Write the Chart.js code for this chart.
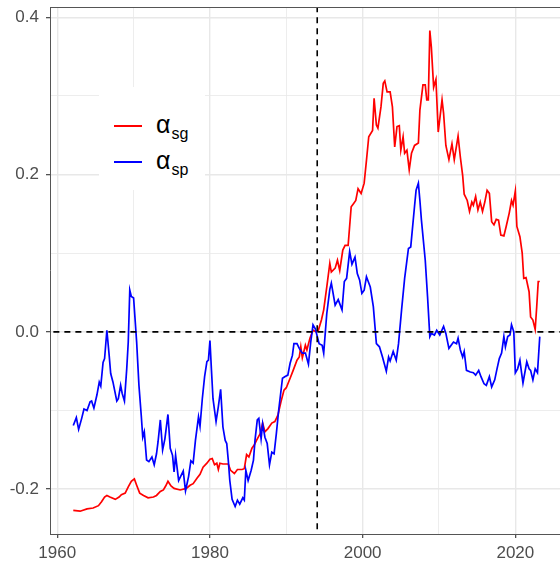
<!DOCTYPE html>
<html>
<head>
<meta charset="utf-8">
<script src="https://cdn.jsdelivr.net/npm/chart.js@4.4.1/dist/chart.umd.min.js"></script>
<style>
  body { margin: 0; background: #fff; overflow: hidden; }
  #wrap { position: relative; width: 560px; height: 563px; }
  #legend {
    position: absolute; left: 99px; top: 87px; width: 106px; height: 103px;
    background: #fff; font-family: "Liberation Sans", Arial, sans-serif;
  }
  .item { position: absolute; left: 0; height: 30px; }
  .key { position: absolute; left: 15px; width: 28px; height: 2px; }
  .lab { position: absolute; left: 57px; font-size: 25px; line-height: 25px; color: #000; white-space: nowrap; }
  .lab sub { font-size: 16px; vertical-align: -6px; margin-left: 1px; }
</style>
</head>
<body>
<div id="wrap">
  <canvas id="chart" width="560" height="563"></canvas>
  <div id="legend">
    <div class="item" style="top:24px">
      <div class="key" style="top:14px;background:#ff0000"></div>
      <div class="lab" style="top:1px">α<sub>sg</sub></div>
    </div>
    <div class="item" style="top:60px">
      <div class="key" style="top:14px;background:#0000ff"></div>
      <div class="lab" style="top:1px">α<sub>sp</sub></div>
    </div>
  </div>
</div>
<script>
// alpha_sg (red)
const sgYears = [1962.1,1963.0,1963.9,1964.7,1965.4,1965.8,1966.2,1966.5,1966.9,1967.6,1968.1,1968.4,1968.9,1969.3,1969.7,1970.1,1970.4,1970.8,1971.3,1971.9,1972.6,1973.0,1973.5,1973.9,1974.2,1974.5,1974.9,1975.3,1976.1,1976.9,1977.4,1977.8,1978.3,1978.7,1979.1,1979.6,1980.0,1980.3,1980.6,1980.9,1981.1,1981.3,1981.7,1982.4,1982.7,1983.2,1983.6,1984.2,1984.5,1984.8,1985.1,1985.5,1985.8,1986.1,1986.6,1986.9,1987.2,1987.6,1988.1,1988.5,1988.9,1989.3,1989.7,1990.0,1990.5,1990.9,1991.4,1991.7,1991.9,1992.1,1992.5,1992.7,1993.1,1993.5,1993.9,1994.2,1994.6,1994.9,1995.3,1995.7,1995.9,1996.4,1996.7,1997.0,1997.4,1997.7,1998.1,1998.5,1998.8,1999.1,1999.4,1999.8,2000.2,2000.5,2000.8,2001.3,2001.5,2001.8,2002.0,2002.4,2002.7,2002.9,2003.2,2003.6,2003.9,2004.2,2004.5,2004.8,2005.0,2005.3,2005.5,2005.8,2006.1,2006.4,2006.8,2007.3,2007.5,2007.9,2008.2,2008.4,2008.6,2008.8,2009.0,2009.3,2009.6,2009.9,2010.4,2010.6,2010.9,2011.3,2011.7,2012.0,2012.5,2012.8,2013.1,2013.3,2013.7,2014.0,2014.3,2014.5,2014.8,2015.1,2015.4,2015.7,2016.0,2016.3,2016.6,2016.9,2017.2,2017.5,2017.8,2018.1,2018.5,2018.8,2019.2,2019.5,2019.7,2020.0,2020.2,2020.6,2020.9,2021.1,2021.4,2021.8,2022.0,2022.3,2022.6,2022.8,2023.0,2023.2];
const sgValues = [-0.227,-0.228,-0.225,-0.224,-0.221,-0.216,-0.210,-0.208,-0.210,-0.213,-0.210,-0.207,-0.205,-0.197,-0.190,-0.187,-0.195,-0.205,-0.208,-0.211,-0.210,-0.208,-0.203,-0.201,-0.196,-0.190,-0.196,-0.199,-0.201,-0.199,-0.195,-0.193,-0.186,-0.181,-0.172,-0.167,-0.162,-0.161,-0.169,-0.167,-0.175,-0.167,-0.168,-0.168,-0.176,-0.180,-0.175,-0.175,-0.174,-0.156,-0.159,-0.148,-0.144,-0.138,-0.129,-0.116,-0.127,-0.123,-0.116,-0.114,-0.106,-0.089,-0.074,-0.071,-0.059,-0.049,-0.036,-0.032,-0.019,-0.033,-0.017,-0.023,-0.008,0.002,0.000,0.002,0.015,0.028,0.057,0.087,0.076,0.081,0.091,0.078,0.104,0.110,0.110,0.159,0.163,0.167,0.182,0.176,0.189,0.218,0.248,0.256,0.297,0.263,0.259,0.286,0.316,0.319,0.305,0.305,0.286,0.235,0.261,0.262,0.231,0.248,0.227,0.231,0.206,0.227,0.237,0.240,0.282,0.314,0.314,0.295,0.295,0.383,0.362,0.311,0.321,0.254,0.295,0.278,0.237,0.219,0.239,0.219,0.249,0.222,0.199,0.175,0.167,0.153,0.165,0.161,0.172,0.155,0.165,0.153,0.165,0.180,0.176,0.140,0.136,0.143,0.142,0.123,0.122,0.134,0.151,0.167,0.161,0.179,0.134,0.121,0.100,0.068,0.069,0.051,0.019,0.015,0.003,0.032,0.064,0.064];

// alpha_sp (blue)
const spYears = [1962.1,1962.5,1962.8,1963.2,1963.5,1963.9,1964.3,1964.5,1964.8,1965.2,1965.5,1965.7,1966.0,1966.2,1966.5,1966.8,1967.0,1967.3,1967.8,1968.0,1968.3,1968.5,1968.8,1969.1,1969.3,1969.5,1969.7,1970.0,1970.4,1970.7,1971.0,1971.2,1971.4,1971.7,1972.0,1972.4,1972.7,1973.0,1973.2,1973.5,1973.8,1974.1,1974.5,1974.8,1975.1,1975.3,1975.5,1975.9,1976.5,1976.8,1977.2,1977.5,1977.8,1978.1,1978.5,1978.7,1979.0,1979.3,1979.6,1979.8,1980.0,1980.2,1980.4,1980.8,1981.1,1981.4,1981.7,1982.0,1982.2,1982.4,1982.6,1982.9,1983.3,1983.6,1983.9,1984.3,1984.5,1984.7,1985.0,1985.4,1985.7,1985.9,1986.2,1986.4,1986.7,1986.9,1987.2,1987.5,1987.8,1988.1,1988.4,1988.7,1989.0,1989.5,1989.8,1990.2,1990.5,1990.8,1991.0,1991.4,1991.7,1992.1,1992.5,1992.9,1993.2,1993.5,1993.8,1994.3,1994.7,1994.9,1995.3,1995.7,1995.9,1996.4,1996.8,1997.3,1997.6,1997.9,1998.3,1998.6,1999.0,1999.3,1999.6,1999.9,2000.2,2000.5,2001.0,2001.4,2001.8,2002.2,2002.6,2003.1,2003.4,2003.6,2004.0,2004.4,2004.7,2005.1,2005.5,2006.0,2006.3,2006.8,2007.0,2007.3,2007.5,2007.7,2008.2,2008.5,2008.8,2009.0,2009.4,2009.7,2010.1,2010.6,2010.9,2011.3,2011.9,2012.3,2012.5,2012.8,2013.1,2013.3,2013.6,2014.1,2014.5,2014.8,2015.2,2015.5,2015.9,2016.2,2016.6,2016.9,2017.3,2017.6,2017.9,2018.2,2018.5,2018.7,2019.0,2019.3,2019.5,2019.8,2020.0,2020.3,2020.6,2020.8,2021.0,2021.5,2021.8,2022.0,2022.3,2022.6,2022.9,2023.2];
const spValues = [-0.119,-0.109,-0.124,-0.110,-0.098,-0.100,-0.089,-0.088,-0.097,-0.080,-0.064,-0.069,-0.039,-0.034,0.002,-0.030,-0.053,-0.064,-0.088,-0.085,-0.068,-0.078,-0.088,-0.047,-0.013,0.053,0.045,0.043,-0.013,-0.068,-0.106,-0.134,-0.127,-0.163,-0.165,-0.159,-0.169,-0.155,-0.140,-0.112,-0.150,-0.136,-0.105,-0.148,-0.157,-0.178,-0.157,-0.189,-0.177,-0.202,-0.184,-0.164,-0.167,-0.138,-0.108,-0.120,-0.085,-0.057,-0.038,-0.036,-0.011,-0.049,-0.085,-0.114,-0.095,-0.073,-0.121,-0.138,-0.142,-0.163,-0.189,-0.213,-0.222,-0.214,-0.219,-0.211,-0.214,-0.176,-0.189,-0.176,-0.163,-0.138,-0.112,-0.110,-0.136,-0.117,-0.134,-0.142,-0.169,-0.153,-0.155,-0.129,-0.100,-0.059,-0.057,-0.055,-0.040,-0.030,-0.015,-0.015,-0.021,-0.027,-0.027,-0.041,-0.013,0.009,0.004,-0.015,-0.017,-0.027,0.023,0.054,0.062,0.034,0.041,0.028,0.064,0.068,0.102,0.086,0.095,0.074,0.066,0.049,0.053,0.070,0.057,0.032,-0.015,-0.019,-0.032,-0.050,-0.032,-0.037,-0.025,-0.036,-0.015,0.028,0.068,0.106,0.108,0.160,0.180,0.189,0.167,0.142,0.091,0.045,-0.006,-0.002,-0.004,0.002,-0.004,0.007,-0.002,-0.021,-0.013,-0.015,-0.008,-0.023,-0.032,-0.025,-0.049,-0.051,-0.052,-0.055,-0.049,-0.057,-0.066,-0.068,-0.057,-0.070,-0.061,-0.047,-0.034,-0.027,-0.006,-0.019,-0.006,-0.004,0.009,0.000,-0.052,-0.047,-0.036,-0.051,-0.065,-0.038,-0.047,-0.049,-0.061,-0.047,-0.052,-0.006];

const xTicks = [1960, 1970, 1980, 1990, 2000, 2010, 2020];
const xLabels = ['1960', '', '1980', '', '2000', '', '2020'];
const yTicks = [-0.2, -0.1, 0, 0.1, 0.2, 0.3, 0.4];
const yLabels = ['-0.2', '', '0.0', '', '0.2', '', '0.4'];
const breakYear = 1994.05;

const xMin = 1959.05, xMax = 2025.85;
const yMin = -0.257, yMax = 0.413;

const toPoints = (xs, ys) => xs.map((x, i) => ({ x: x, y: ys[i] }));

Chart.defaults.font.family = '"Liberation Sans", Arial, sans-serif';

const axisColor = '#555555';
const gridColor = '#e8e8e8';

const topBorder = {
  id: 'topBorder',
  afterDraw(chart) {
    const { ctx, chartArea } = chart;
    ctx.save();
    ctx.strokeStyle = axisColor;
    ctx.lineWidth = 1;
    ctx.beginPath();
    ctx.moveTo(chartArea.left, chartArea.top + 0.5);
    ctx.lineTo(chartArea.right, chartArea.top + 0.5);
    ctx.stroke();
    ctx.restore();
  }
};

const isMajor = (list, labels, v) => {
  const i = list.findIndex(t => Math.abs(t - v) < 1e-6);
  return i >= 0 && labels[i] !== '';
};

new Chart(document.getElementById('chart'), {
  type: 'line',
  data: {
    datasets: [
      {
        label: 'zero',
        data: [{ x: xMin - 1, y: 0 }, { x: xMax + 1, y: 0 }],
        borderColor: '#000',
        borderWidth: 1.6,
        borderDash: [6, 5],
        pointRadius: 0
      },
      {
        label: 'break',
        data: [{ x: breakYear, y: yMin - 0.05 }, { x: breakYear, y: yMax + 0.05 }],
        borderColor: '#000',
        borderWidth: 1.6,
        borderDash: [6, 5],
        pointRadius: 0
      },
      {
        label: 'alpha_sp',
        data: toPoints(spYears, spValues),
        borderColor: '#0000ff',
        borderWidth: 1.7,
        pointRadius: 0
      },
      {
        label: 'alpha_sg',
        data: toPoints(sgYears, sgValues),
        borderColor: '#ff0000',
        borderWidth: 1.7,
        pointRadius: 0
      }
    ]
  },
  options: {
    responsive: false,
    animation: false,
    devicePixelRatio: 1,
    layout: { padding: { top: 7, right: 0, left: 0, bottom: 0 } },
    plugins: {
      legend: { display: false },
      tooltip: { enabled: false }
    },
    scales: {
      x: {
        type: 'linear',
        min: xMin,
        max: xMax,
        afterBuildTicks: (scale) => { scale.ticks = xTicks.map(v => ({ value: v })); },
        afterFit: (scale) => {
          scale.height = 29;
          scale.paddingLeft = 0;
          scale.paddingRight = 0;
        },
        ticks: {
          autoSkip: false,
          maxRotation: 0,
          padding: 5,
          color: '#4d4d4d',
          font: { size: 17 },
          callback: (v) => {
            const i = xTicks.findIndex(t => Math.abs(t - v) < 1e-6);
            return i >= 0 ? xLabels[i] : '';
          }
        },
        grid: {
          color: gridColor,
          lineWidth: (c) => isMajor(xTicks, xLabels, c.tick.value) ? 1.4 : 0.8,
          tickLength: 4,
          tickColor: (c) => isMajor(xTicks, xLabels, c.tick.value) ? '#333' : 'rgba(0,0,0,0)',
          tickWidth: 1.1
        },
        border: { color: axisColor, width: 1 }
      },
      y: {
        type: 'linear',
        min: yMin,
        max: yMax,
        afterBuildTicks: (scale) => { scale.ticks = yTicks.map(v => ({ value: v })); },
        afterFit: (scale) => {
          scale.width = 50;
          scale.paddingTop = 0;
          scale.paddingBottom = 0;
        },
        ticks: {
          padding: 7,
          color: '#4d4d4d',
          font: { size: 17 },
          callback: (v) => {
            const i = yTicks.findIndex(t => Math.abs(t - v) < 1e-6);
            return i >= 0 ? yLabels[i] : '';
          }
        },
        grid: {
          color: gridColor,
          lineWidth: (c) => isMajor(yTicks, yLabels, c.tick.value) ? 1.4 : 0.8,
          tickLength: 4,
          tickColor: (c) => isMajor(yTicks, yLabels, c.tick.value) ? '#333' : 'rgba(0,0,0,0)',
          tickWidth: 1.1
        },
        border: { color: axisColor, width: 1 }
      }
    }
  },
  plugins: [topBorder]
});
</script>
</body>
</html>
